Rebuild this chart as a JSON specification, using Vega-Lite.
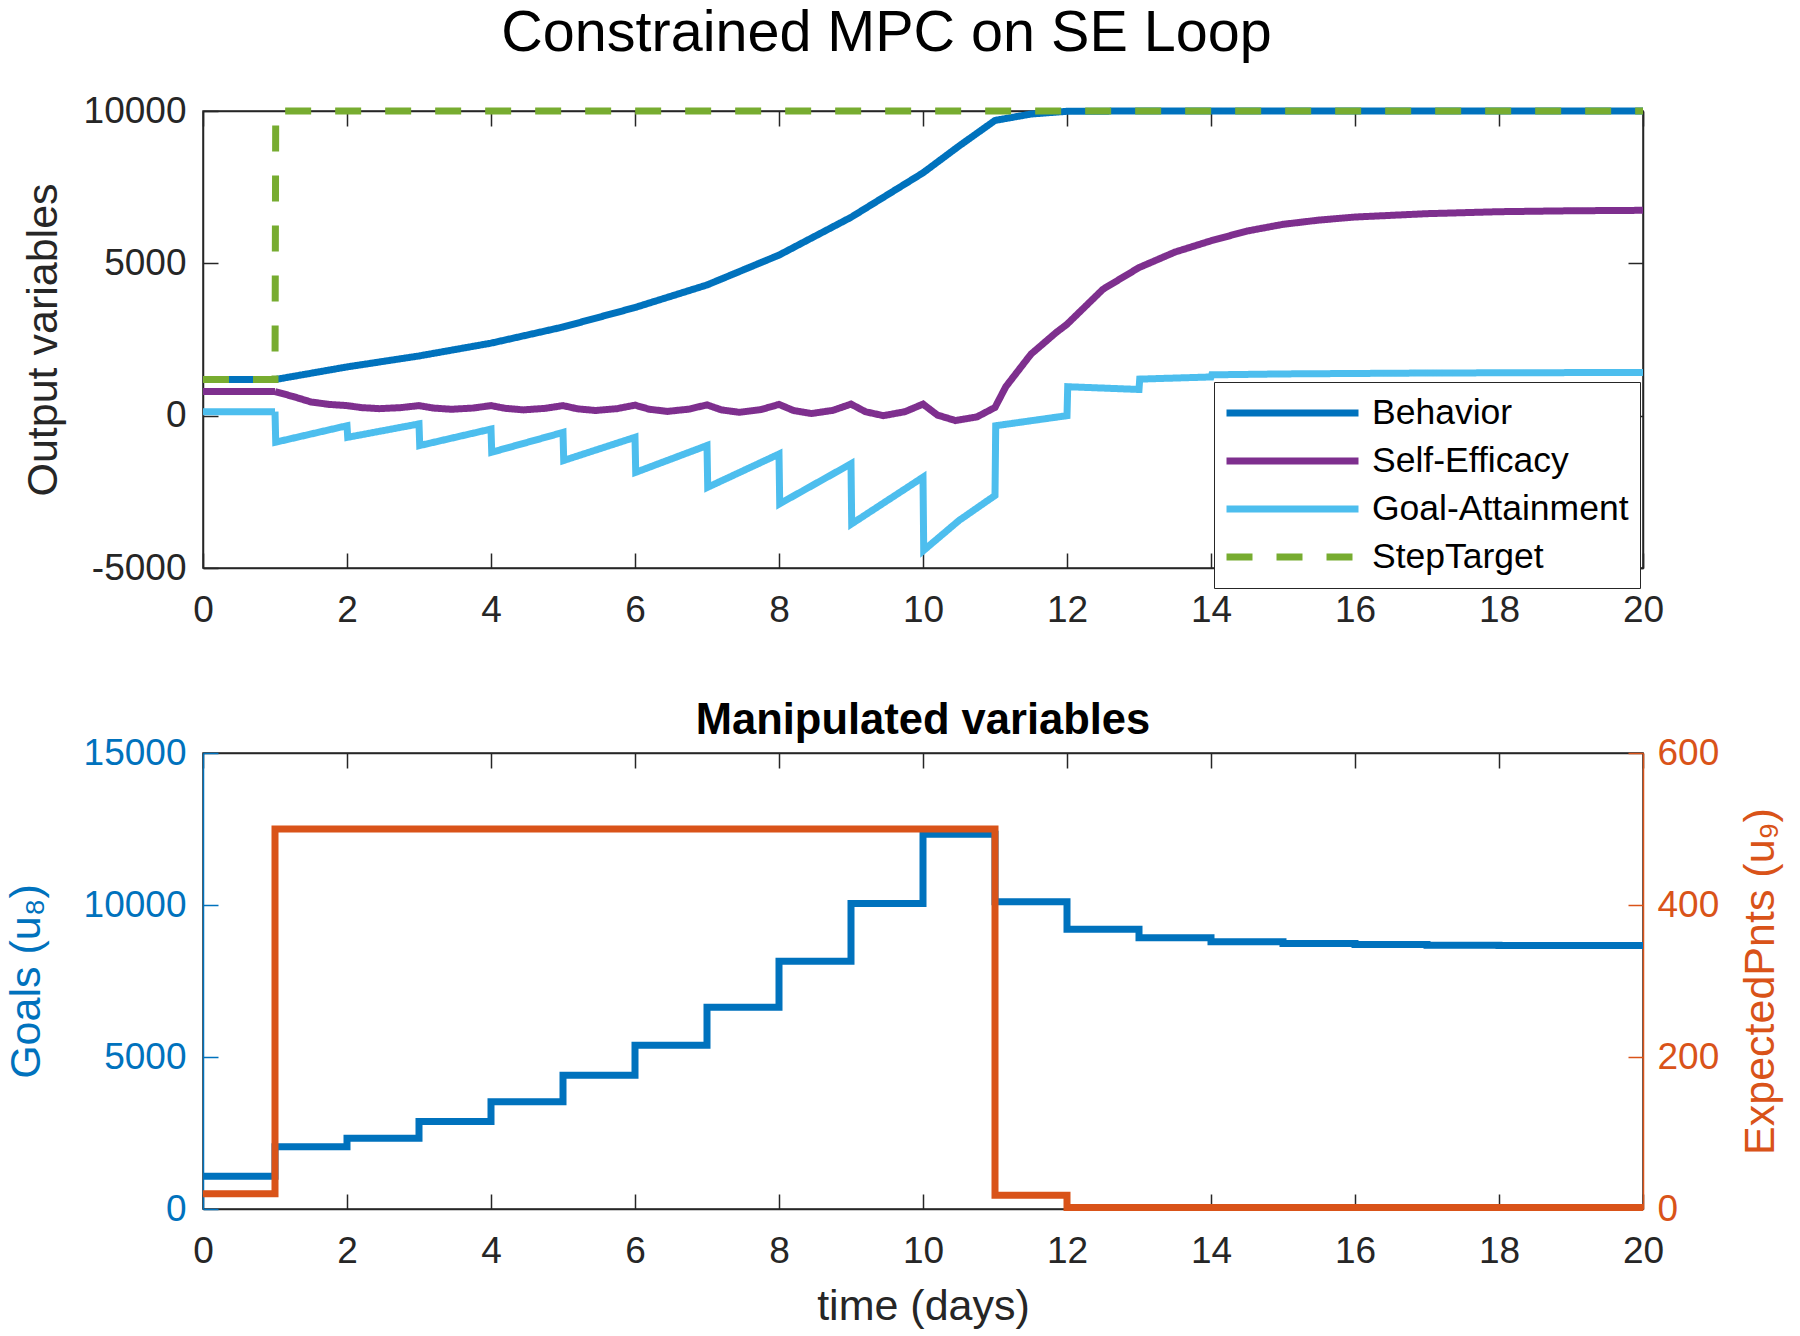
{
"$schema": "https://vega.github.io/schema/vega-lite/v6.json",
"background": "white",
"padding": {"left": 4, "top": 4, "right": 14, "bottom": 7},
"bounds": "flush",
"spacing": 185,
"title": {"text": "Constrained MPC on SE Loop", "fontSize": 57.5, "fontWeight": "normal", "font": "Liberation Sans", "color": "#000000", "anchor": "middle", "offset": 28, "dx": -7},
"config": {
  "font": "Liberation Sans",
  "view": {"stroke": "#262626", "strokeWidth": 1.5},
  "axis": {"grid": false, "labelFont": "Liberation Sans", "labelFontSize": 37, "labelColor": "#262626", "titleFont": "Liberation Sans", "titleFontSize": 43, "titleFontWeight": "normal", "titleColor": "#262626", "domainColor": "#262626", "domainWidth": 1.5, "tickColor": "#262626", "tickWidth": 1.5, "tickSize": -15, "labelFlush": false, "labelOverlap": false}
},
"datasets": {
  "outputs": [
    {"t":0,"v":1185,"s":"Behavior"},{"t":1,"v":1185,"s":"Behavior"},{"t":2,"v":1600,"s":"Behavior"},{"t":3,"v":1960,"s":"Behavior"},{"t":4,"v":2380,"s":"Behavior"},{"t":5,"v":2910,"s":"Behavior"},{"t":6,"v":3550,"s":"Behavior"},{"t":7,"v":4290,"s":"Behavior"},{"t":8,"v":5270,"s":"Behavior"},{"t":9,"v":6510,"s":"Behavior"},{"t":10,"v":7970,"s":"Behavior"},{"t":10.5,"v":8850,"s":"Behavior"},{"t":11,"v":9690,"s":"Behavior"},{"t":11.5,"v":9900,"s":"Behavior"},{"t":12,"v":9990,"s":"Behavior"},{"t":13,"v":10000,"s":"Behavior"},{"t":20,"v":10000,"s":"Behavior"},
    {"t":0,"v":790,"s":"Self-Efficacy"},{"t":1,"v":790,"s":"Self-Efficacy"},{"t":1.25,"v":630,"s":"Self-Efficacy"},{"t":1.5,"v":450,"s":"Self-Efficacy"},{"t":1.75,"v":370,"s":"Self-Efficacy"},{"t":2,"v":330,"s":"Self-Efficacy"},{"t":2.2,"v":265,"s":"Self-Efficacy"},{"t":2.45,"v":230,"s":"Self-Efficacy"},{"t":2.75,"v":265,"s":"Self-Efficacy"},{"t":3,"v":330,"s":"Self-Efficacy"},{"t":3.2,"v":250,"s":"Self-Efficacy"},{"t":3.45,"v":210,"s":"Self-Efficacy"},{"t":3.75,"v":250,"s":"Self-Efficacy"},{"t":4,"v":330,"s":"Self-Efficacy"},{"t":4.2,"v":240,"s":"Self-Efficacy"},{"t":4.45,"v":190,"s":"Self-Efficacy"},{"t":4.75,"v":240,"s":"Self-Efficacy"},{"t":5,"v":330,"s":"Self-Efficacy"},{"t":5.2,"v":225,"s":"Self-Efficacy"},{"t":5.45,"v":170,"s":"Self-Efficacy"},{"t":5.75,"v":230,"s":"Self-Efficacy"},{"t":6,"v":345,"s":"Self-Efficacy"},{"t":6.2,"v":210,"s":"Self-Efficacy"},{"t":6.45,"v":140,"s":"Self-Efficacy"},{"t":6.75,"v":215,"s":"Self-Efficacy"},{"t":7,"v":355,"s":"Self-Efficacy"},{"t":7.2,"v":190,"s":"Self-Efficacy"},{"t":7.45,"v":110,"s":"Self-Efficacy"},{"t":7.75,"v":200,"s":"Self-Efficacy"},{"t":8,"v":370,"s":"Self-Efficacy"},{"t":8.2,"v":170,"s":"Self-Efficacy"},{"t":8.45,"v":70,"s":"Self-Efficacy"},{"t":8.75,"v":175,"s":"Self-Efficacy"},{"t":9,"v":380,"s":"Self-Efficacy"},{"t":9.2,"v":130,"s":"Self-Efficacy"},{"t":9.45,"v":0,"s":"Self-Efficacy"},{"t":9.75,"v":130,"s":"Self-Efficacy"},{"t":10,"v":380,"s":"Self-Efficacy"},{"t":10.2,"v":20,"s":"Self-Efficacy"},{"t":10.45,"v":-160,"s":"Self-Efficacy"},{"t":10.75,"v":-40,"s":"Self-Efficacy"},{"t":11,"v":270,"s":"Self-Efficacy"},{"t":11.15,"v":950,"s":"Self-Efficacy"},{"t":11.5,"v":2020,"s":"Self-Efficacy"},{"t":11.85,"v":2730,"s":"Self-Efficacy"},{"t":12,"v":3000,"s":"Self-Efficacy"},{"t":12.5,"v":4150,"s":"Self-Efficacy"},{"t":13,"v":4860,"s":"Self-Efficacy"},{"t":13.5,"v":5370,"s":"Self-Efficacy"},{"t":14,"v":5740,"s":"Self-Efficacy"},{"t":14.5,"v":6060,"s":"Self-Efficacy"},{"t":15,"v":6280,"s":"Self-Efficacy"},{"t":15.5,"v":6420,"s":"Self-Efficacy"},{"t":16,"v":6520,"s":"Self-Efficacy"},{"t":17,"v":6630,"s":"Self-Efficacy"},{"t":18,"v":6695,"s":"Self-Efficacy"},{"t":19,"v":6725,"s":"Self-Efficacy"},{"t":20,"v":6740,"s":"Self-Efficacy"},
    {"t":0,"v":130,"s":"Goal-Attainment"},{"t":1,"v":130,"s":"Goal-Attainment"},{"t":1.01,"v":-870,"s":"Goal-Attainment"},{"t":2,"v":-330,"s":"Goal-Attainment"},{"t":2.01,"v":-710,"s":"Goal-Attainment"},{"t":3,"v":-270,"s":"Goal-Attainment"},{"t":3.01,"v":-980,"s":"Goal-Attainment"},{"t":4,"v":-440,"s":"Goal-Attainment"},{"t":4.01,"v":-1200,"s":"Goal-Attainment"},{"t":5,"v":-550,"s":"Goal-Attainment"},{"t":5.01,"v":-1470,"s":"Goal-Attainment"},{"t":6,"v":-710,"s":"Goal-Attainment"},{"t":6.01,"v":-1860,"s":"Goal-Attainment"},{"t":7,"v":-980,"s":"Goal-Attainment"},{"t":7.01,"v":-2350,"s":"Goal-Attainment"},{"t":8,"v":-1260,"s":"Goal-Attainment"},{"t":8.01,"v":-2890,"s":"Goal-Attainment"},{"t":9,"v":-1580,"s":"Goal-Attainment"},{"t":9.01,"v":-3550,"s":"Goal-Attainment"},{"t":10,"v":-2020,"s":"Goal-Attainment"},{"t":10.01,"v":-4420,"s":"Goal-Attainment"},{"t":10.5,"v":-3440,"s":"Goal-Attainment"},{"t":11,"v":-2620,"s":"Goal-Attainment"},{"t":11.01,"v":-330,"s":"Goal-Attainment"},{"t":12,"v":0,"s":"Goal-Attainment"},{"t":12.01,"v":950,"s":"Goal-Attainment"},{"t":13,"v":860,"s":"Goal-Attainment"},{"t":13.01,"v":1200,"s":"Goal-Attainment"},{"t":14,"v":1270,"s":"Goal-Attainment"},{"t":14.01,"v":1340,"s":"Goal-Attainment"},{"t":15,"v":1370,"s":"Goal-Attainment"},{"t":17,"v":1400,"s":"Goal-Attainment"},{"t":20,"v":1420,"s":"Goal-Attainment"},
    {"t":0,"v":1185,"s":"StepTarget"},{"t":1,"v":1185,"s":"StepTarget"},{"t":1.01,"v":10000,"s":"StepTarget"},{"t":20,"v":10000,"s":"StepTarget"}
  ],
  "goals": [
    {"t":0,"v":1080},{"t":1,"v":2050},{"t":2,"v":2330},{"t":3,"v":2880},{"t":4,"v":3530},{"t":5,"v":4400},{"t":6,"v":5390},{"t":7,"v":6640},{"t":8,"v":8150},{"t":9,"v":10050},{"t":10,"v":12330},{"t":11,"v":10110},{"t":12,"v":9200},{"t":13,"v":8920},{"t":14,"v":8790},{"t":15,"v":8730},{"t":16,"v":8700},{"t":17,"v":8680},{"t":18,"v":8670},{"t":19,"v":8670},{"t":20,"v":8670}
  ],
  "pnts": [
    {"t":0,"v":20},{"t":1,"v":500},{"t":11,"v":18},{"t":12,"v":2},{"t":20,"v":2}
  ]
},
"vconcat": [
  {
    "width": 1440, "height": 457,
    "layer": [
      {
        "data": {"name": "outputs"},
        "mark": {"type": "line", "strokeWidth": 7},
        "encoding": {
          "x": {"field": "t", "type": "quantitative", "scale": {"domain": [0, 20], "nice": false, "zero": false},
                "axis": {"orient": "bottom", "values": [0,2,4,6,8,10,12,14,16,18,20], "labelPadding": 39, "title": null}},
          "y": {"field": "v", "type": "quantitative", "scale": {"domain": [-5000, 10000], "nice": false, "zero": false},
                "axis": {"orient": "left", "values": [-5000,0,5000,10000], "labelPadding": 32, "labelExpr": "'' + datum.value", "title": "Output variables", "minExtent": 112, "maxExtent": 112, "titlePadding": 26}},
          "color": {"field": "s", "type": "nominal",
                    "scale": {"domain": ["Behavior","Self-Efficacy","Goal-Attainment","StepTarget"], "range": ["#0072BD","#7E2F8E","#4DBEEE","#77AC30"]},
                    "legend": {"orient": "none", "legendX": 1011, "legendY": 271, "title": null, "fillColor": "#ffffff", "strokeColor": "#262626", "padding": 11, "symbolType": "stroke", "symbolSize": 17424, "symbolStrokeWidth": 7, "clipHeight": 40, "rowPadding": 8, "labelFontSize": 35.5, "labelFont": "Liberation Sans", "labelColor": "#000000", "labelOffset": 10, "symbolOffset": -2, "labelLimit": 400}},
          "strokeDash": {"field": "s", "type": "nominal",
                    "scale": {"domain": ["Behavior","Self-Efficacy","Goal-Attainment","StepTarget"], "range": [[1,0],[1,0],[1,0],[26,24]]},
                    "legend": {"orient": "none", "legendX": 1011, "legendY": 271, "title": null, "fillColor": "#ffffff", "strokeColor": "#262626", "padding": 11, "symbolType": "stroke", "symbolSize": 17424, "symbolStrokeWidth": 7, "clipHeight": 40, "rowPadding": 8, "labelFontSize": 35.5, "labelFont": "Liberation Sans", "labelColor": "#000000", "labelOffset": 10, "symbolOffset": -2, "labelLimit": 400}}
        }
      },
      {
        "data": {"name": "outputs"},
        "mark": {"type": "line", "opacity": 0},
        "encoding": {
          "x": {"field": "t", "type": "quantitative", "axis": {"orient": "top", "values": [0,2,4,6,8,10,12,14,16,18,20], "labels": false, "title": null}},
          "y": {"field": "v", "type": "quantitative", "axis": {"orient": "right", "values": [-5000,0,5000,10000], "labels": false, "title": null}},
          "detail": {"field": "s", "type": "nominal"}
        }
      }
    ],
    "resolve": {"axis": {"x": "independent", "y": "independent"}}
  },
  {
    "width": 1440, "height": 456,
    "title": {"text": "Manipulated variables", "fontSize": 43.5, "fontWeight": "bold", "font": "Liberation Sans", "color": "#000000", "anchor": "middle", "offset": -9},
    "layer": [
      {
        "data": {"name": "goals"},
        "mark": {"type": "line", "interpolate": "step-after", "strokeWidth": 7, "color": "#0072BD"},
        "encoding": {
          "x": {"field": "t", "type": "quantitative", "scale": {"domain": [0, 20], "nice": false, "zero": false},
                "axis": {"orient": "bottom", "values": [0,2,4,6,8,10,12,14,16,18,20], "labelPadding": 39, "title": "time (days)", "minExtent": 61, "maxExtent": 61, "titlePadding": 15}},
          "y": {"field": "v", "type": "quantitative", "scale": {"domain": [0, 15000], "nice": false, "zero": false},
                "axis": {"orient": "left", "values": [0,5000,10000,15000], "labelPadding": 32, "labelExpr": "'' + datum.value", "title": "Goals (u₈)", "minExtent": 112, "maxExtent": 112, "titlePadding": 43, "labelColor": "#0072BD", "titleColor": "#0072BD", "domainColor": "#0072BD", "tickColor": "#0072BD"}}
        }
      },
      {
        "data": {"name": "pnts"},
        "mark": {"type": "line", "interpolate": "step-after", "strokeWidth": 7, "color": "#D95319"},
        "encoding": {
          "x": {"field": "t", "type": "quantitative", "axis": {"orient": "top", "values": [0,2,4,6,8,10,12,14,16,18,20], "labels": false, "title": null}},
          "y": {"field": "v", "type": "quantitative", "scale": {"domain": [0, 600], "nice": false, "zero": false},
                "axis": {"orient": "right", "values": [0,200,400,600], "labelPadding": 29, "labelExpr": "'' + datum.value", "title": "ExpectedPnts (u₉)", "titleAngle": 270, "titleBaseline": "top", "minExtent": 76, "maxExtent": 76, "titlePadding": 20, "labelColor": "#D95319", "titleColor": "#D95319", "domainColor": "#D95319", "tickColor": "#D95319"}}
        }
      }
    ],
    "resolve": {"scale": {"y": "independent"}, "axis": {"x": "independent"}}
  }
]
}
